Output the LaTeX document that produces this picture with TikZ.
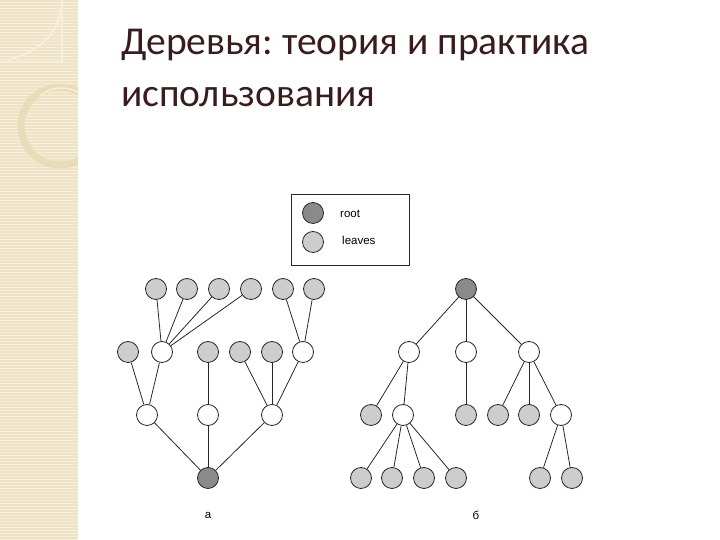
\documentclass[tikz,border=0pt]{standalone}
\usepackage{fontspec}
\setmainfont{Liberation Sans}
\newfontfamily\titlefont{Carlito}
\usepackage{tikz}
\usetikzlibrary{arrows,%
                shapes,positioning}
\frenchspacing
\definecolor{stripbase}{RGB}{238,227,198}
\definecolor{stripline}{RGB}{246,239,218}
\definecolor{stripring}{RGB}{232,220,185}
\definecolor{titlebrown}{RGB}{58,28,28}
\definecolor{leafgray}{RGB}{205,205,205}
\definecolor{rootgray}{RGB}{138,138,138}
\definecolor{edgegray}{RGB}{40,40,40}

\begin{document}
\begin{tikzpicture}[x=1pt,y=1pt,
  vleaf/.style={circle,draw=edgegray,line width=0.8pt,fill=leafgray,minimum size=21pt,inner sep=0pt},
  vinner/.style={vleaf,fill=white},
  vroot/.style={vleaf,fill=rootgray},
  edge/.style={draw=edgegray,line width=0.8pt},
  heading/.style={anchor=base west,inner sep=0pt,text=titlebrown,font=\titlefont\fontsize{39.5}{44}\selectfont},
  caption/.style={font=\fontsize{11.5}{13}\selectfont,text=black,inner sep=0pt}]
\useasboundingbox (0,0) rectangle (720,540);
\fill[white] (0,0) rectangle (720,540);
\fill[stripbase] (0,0) rectangle (78,540);
\foreach \y in {0,3,...,537} \fill[stripline] (0,\y) rectangle (78,\y+1.2);
\begin{scope}
\clip (0,0) rectangle (78,540);
\draw[stripring,line width=7pt] (60,414) circle (39);
\draw[stripline,line width=1.5pt] (40,444) arc (130:-20:34);
\draw[stripline,line width=1.2pt] (0,478) -- (62,478) -- (62,540);
\draw[stripline,line width=2pt] (8,480) .. controls (45,490) and (60,510) .. (62,540);
\end{scope}
\node[heading] (title1) at (121,485) {Деревья: теория и практика};
\node[heading] (title2) at (121,433) {использования};
\node[draw=edgegray,line width=0.8pt,minimum width=118pt,minimum height=71pt] (legend) at (350,310.5) {};
\node[vroot] (LR) at (313,327) {};
\node[vleaf] (LL) at (313,298) {};
\node[caption,anchor=west] (LRt) at (340,326) {root};
\node[caption,anchor=west] (LLt) at (342,300) {leaves};
\node[vleaf] (A1) at (156,251) {};
\node[vleaf] (A2) at (187,251) {};
\node[vleaf] (A3) at (219,251) {};
\node[vleaf] (A4) at (251,251) {};
\node[vleaf] (A5) at (283,251) {};
\node[vleaf] (A6) at (314,251) {};
\node[vleaf] (A7) at (128,188) {};
\node[vinner] (A8) at (162,188) {};
\node[vleaf] (A9) at (208,188) {};
\node[vleaf] (A10) at (240,188) {};
\node[vleaf] (A11) at (272,188) {};
\node[vinner] (A12) at (303,188) {};
\node[vinner] (A13) at (147,125) {};
\node[vinner] (A14) at (208,125) {};
\node[vinner] (A15) at (272,125) {};
\node[vroot] (A16) at (208,62) {};
\draw[edge] (A1) -- (A8);
\draw[edge] (A2) -- (A8);
\draw[edge] (A3) -- (A8);
\draw[edge] (A4) -- (A8);
\draw[edge] (A5) -- (A12);
\draw[edge] (A6) -- (A12);
\draw[edge] (A7) -- (A13);
\draw[edge] (A8) -- (A13);
\draw[edge] (A9) -- (A14);
\draw[edge] (A10) -- (A15);
\draw[edge] (A11) -- (A15);
\draw[edge] (A12) -- (A15);
\draw[edge] (A13) -- (A16);
\draw[edge] (A14) -- (A16);
\draw[edge] (A15) -- (A16);
\node[vroot] (B1) at (466,251) {};
\node[vinner] (B2) at (409,188) {};
\node[vinner] (B3) at (466,188) {};
\node[vinner] (B4) at (529,188) {};
\node[vleaf] (B5) at (371,125) {};
\node[vinner] (B6) at (403,125) {};
\node[vleaf] (B7) at (466,125) {};
\node[vleaf] (B8) at (498,125) {};
\node[vleaf] (B9) at (529,125) {};
\node[vinner] (B10) at (561,125) {};
\node[vleaf] (B11) at (361,62) {};
\node[vleaf] (B12) at (392,62) {};
\node[vleaf] (B13) at (424,62) {};
\node[vleaf] (B14) at (456,62) {};
\node[vleaf] (B15) at (540,62) {};
\node[vleaf] (B16) at (572,62) {};
\draw[edge] (B1) -- (B2);
\draw[edge] (B1) -- (B3);
\draw[edge] (B1) -- (B4);
\draw[edge] (B2) -- (B5);
\draw[edge] (B2) -- (B6);
\draw[edge] (B3) -- (B7);
\draw[edge] (B4) -- (B8);
\draw[edge] (B4) -- (B9);
\draw[edge] (B4) -- (B10);
\draw[edge] (B6) -- (B11);
\draw[edge] (B6) -- (B12);
\draw[edge] (B6) -- (B13);
\draw[edge] (B6) -- (B14);
\draw[edge] (B10) -- (B15);
\draw[edge] (B10) -- (B16);
\node[caption] (capA) at (208,25) {а};
\node[caption] (capB) at (476,25) {б};
\end{tikzpicture}
\end{document}
